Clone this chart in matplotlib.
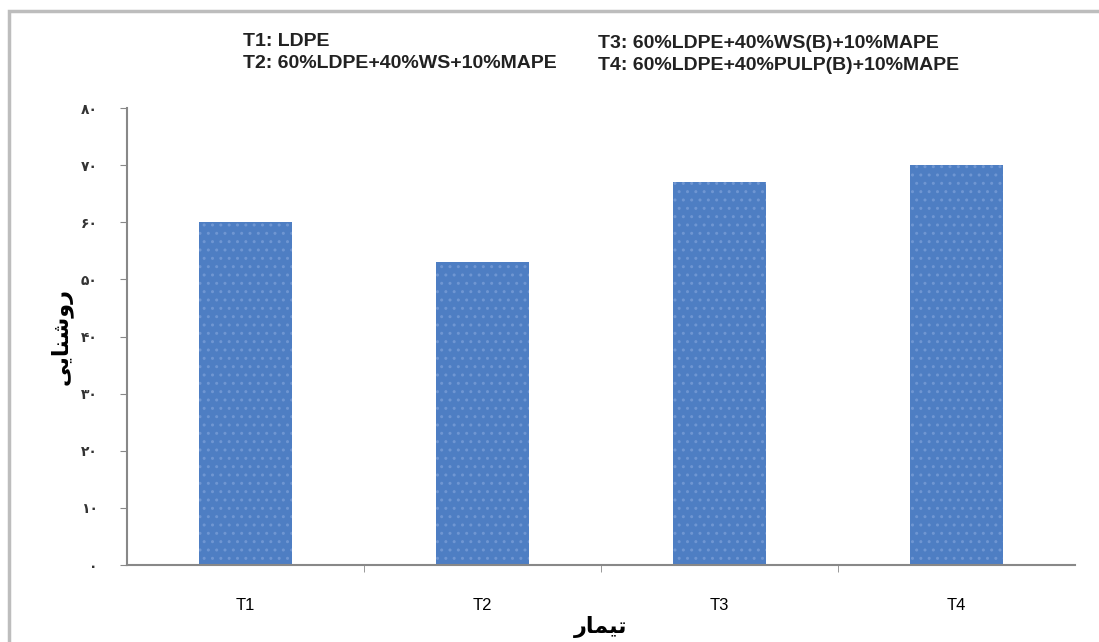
import numpy as np
import matplotlib.pyplot as plt
from matplotlib.patches import Rectangle

treatments = ["T1", "T2", "T3", "T4"]
brightness = [60, 53, 67, 70]
y_ticks = [0, 10, 20, 30, 40, 50, 60, 70, 80]

legend_left = ["T1: LDPE", "T2: 60%LDPE+40%WS+10%MAPE"]
legend_right = ["T3: 60%LDPE+40%WS(B)+10%MAPE", "T4: 60%LDPE+40%PULP(B)+10%MAPE"]

# Persian text written in presentation forms, visual order
x_title = "\uFEAD\uFE8E\uFEE4\uFEF4\uFE97"          # تیمار
y_title = "\uFEF0\uFEF3\uFE8E\uFEE8\uFEB7\uFEED\uFEAD"  # روشنایی


def persian_digits(n):
    return "".join(chr(0x06F0 + int(c)) for c in str(n))


plt.rcParams['font.family'] = ['DejaVu Sans', 'Noto Sans']

fig = plt.figure(figsize=(10.99, 6.42), dpi=100)
fig.patches.append(Rectangle((9 / 1099, -0.1), 1.2, 1.1 - 11 / 642,
                             transform=fig.transFigure, fill=False,
                             edgecolor='#bdbdbd', linewidth=2.5))

ax = fig.add_axes([127 / 1099, 1 - 565 / 642, 948 / 1099, 457 / 642])
x = np.arange(len(treatments))
ax.bar(x, brightness, width=0.39, color='#4e7ec3', edgecolor='#6f96d2',
       hatch='..', linewidth=0)

ax.set_xlim(-0.5, len(treatments) - 0.5)
ax.set_ylim(0, 80)
ax.set_yticks(y_ticks)
ax.set_yticklabels([persian_digits(v) for v in y_ticks], fontsize=10,
                   fontweight='bold', color='#333333')
ax.set_xticks(x)
ax.set_xticklabels(treatments, fontsize=12, family='Liberation Sans')
ax.set_xticks(np.arange(len(treatments) - 1) + 0.5, minor=True)
ax.tick_params(axis='x', which='major', length=0, pad=24)
ax.tick_params(axis='x', which='minor', length=5, color='#888888')
ax.tick_params(axis='y', length=5, color='#888888', pad=16)

for side in ['top', 'right']:
    ax.spines[side].set_visible(False)
for side in ['left', 'bottom']:
    ax.spines[side].set_color('#888888')
    ax.spines[side].set_linewidth(1.5)

ax.set_xlabel(x_title, fontsize=16, fontweight='bold', labelpad=2)
ax.set_ylabel(y_title, fontsize=16, fontweight='bold', labelpad=6)

for i, t in enumerate(legend_left):
    fig.text(243 / 1099, 1 - (41 + 22 * i) / 642, t, fontsize=14,
             fontweight='bold', family='Liberation Sans', va='center',
             color='#222222')
for i, t in enumerate(legend_right):
    fig.text(598 / 1099, 1 - (43 + 22 * i) / 642, t, fontsize=14,
             fontweight='bold', family='Liberation Sans', va='center',
             color='#222222')

fig.savefig("out.png", dpi=100)
